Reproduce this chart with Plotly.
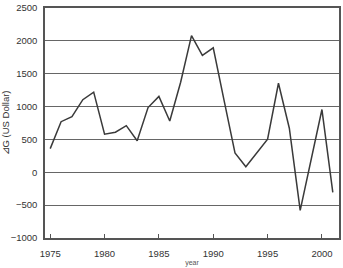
import plotly.graph_objects as go

years = list(range(1975, 2002))
delta_g = [360, 770, 845, 1105, 1220, 580, 610, 710, 480, 985, 1155, 780, 1370,
           2080, 1780, 1895, 1090, 295, 85, 290, 505, 1355, 670, -580, 190, 955, -305]
x_ticks = [1975, 1980, 1985, 1990, 1995, 2000]
y_ticks = [-1000, -500, 0, 500, 1000, 1500, 2000, 2500]

fig = go.Figure()
fig.add_trace(go.Scatter(x=years, y=delta_g, mode="lines",
                         line=dict(color="#3a3a3a", width=1.5), showlegend=False))

font = dict(family="Liberation Sans, Arial, sans-serif", size=9.5, color="#333333")
fig.update_layout(
    width=343, height=268,
    margin=dict(l=40, r=2, t=6, b=29),
    paper_bgcolor="white", plot_bgcolor="white",
    font=font,
    xaxis=dict(range=[1974.52, 2001.57], tickvals=x_ticks, ticks="inside", ticklen=4,
               tickcolor="#555555", showgrid=False, zeroline=False,
               showline=True, linecolor="#555555", linewidth=1.5, mirror=True,
               title=dict(text="year", font=dict(size=7, color="#555555"), standoff=2),
               ticklabelstandoff=6),
    yaxis=dict(range=[-1000, 2500], tickvals=y_ticks, ticks="", showgrid=True,
               gridcolor="#666666", gridwidth=1.4, zeroline=False,
               showline=True, linecolor="#555555", linewidth=1.5, mirror=True,
               tickformat="d", ticklabelstandoff=4,
               title=dict(text="⊿G (US Dollar)", font=dict(size=9.5, color="#333333"), standoff=2)),
)
fig.write_html("out.html")
